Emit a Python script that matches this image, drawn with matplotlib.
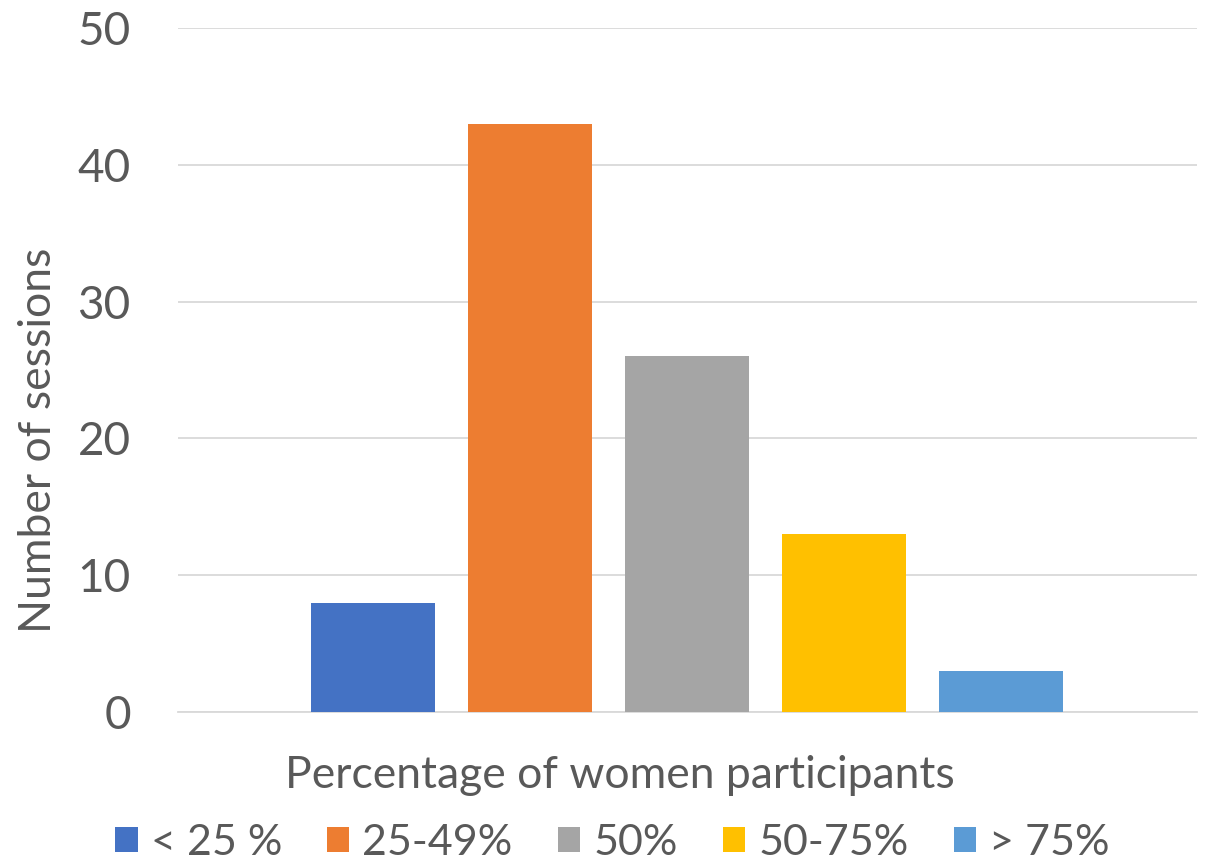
import matplotlib
matplotlib.use('Agg')
import matplotlib.pyplot as plt
from matplotlib.patches import Patch

categories = ['< 25 %', '25-49%', '50%', '50-75%', '> 75%']
sessions = [8, 43, 26, 13, 3]
colors = ['#4472C4', '#ED7D31', '#A5A5A5', '#FFC000', '#5B9BD5']
yticks = [0, 10, 20, 30, 40, 50]

txt = '#595959'
plt.rcParams['font.family'] = ['Lato', 'DejaVu Sans']

fig = plt.figure(figsize=(12.1, 8.63), dpi=100)
ax = fig.add_axes([0.1471, 0.1750, 0.8422, 0.7926])

x = range(len(categories))
ax.bar(x, sessions, width=0.79, color=colors, zorder=3)

ax.set_xlim(-1.242, 5.248)
ax.set_ylim(0, 50)
ax.set_yticks(yticks)
ax.set_xticks([])
ax.grid(axis='y', color='#d9d9d9', linewidth=1.3, zorder=0)
for s in ['top', 'right', 'left']:
    ax.spines[s].set_visible(False)
ax.spines['bottom'].set_color('#d9d9d9')
ax.spines['bottom'].set_linewidth(1.3)
ax.tick_params(axis='y', length=0, pad=34, labelsize=33, labelcolor=txt)

fig.text(0.032, 0.490, 'Number of sessions', rotation=90, ha='center', va='center',
         fontsize=32, color=txt)
fig.text(0.512, 0.101, 'Percentage of women participants', ha='center', va='center',
         fontsize=32, color=txt)

handles = [Patch(facecolor=c, label=l) for c, l in zip(colors, categories)]
leg = fig.legend(handles=handles, loc='center', bbox_to_anchor=(0.506, 0.023), ncol=5,
                 frameon=False, fontsize=31, handlelength=0.52, handleheight=0.52,
                 handletextpad=0.3, columnspacing=1.05)
for t in leg.get_texts():
    t.set_color(txt)

fig.savefig('out.png', dpi=100)
